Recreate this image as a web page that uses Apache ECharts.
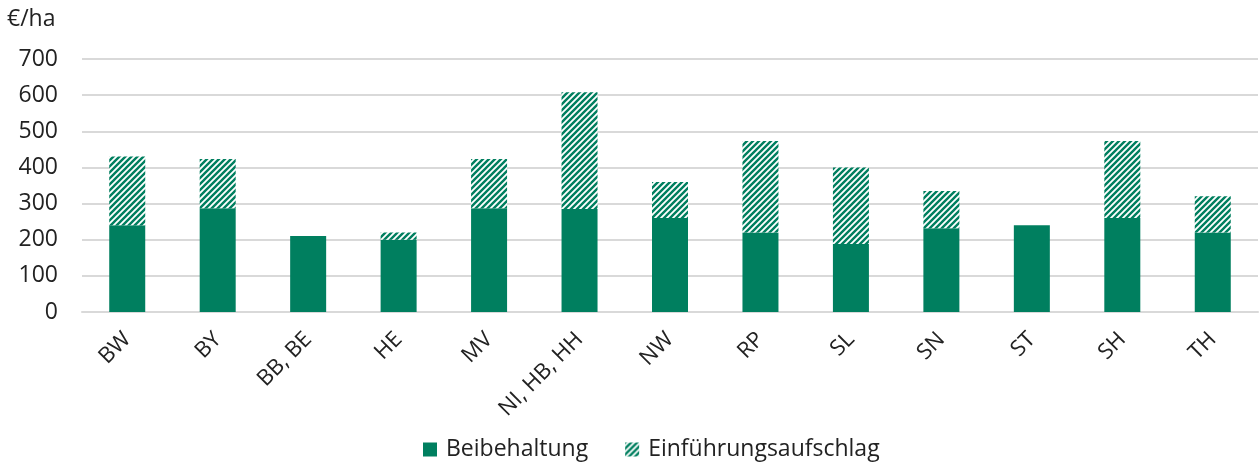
<!DOCTYPE html>
<html>
<head>
<meta charset="utf-8">
<script src="https://cdn.jsdelivr.net/npm/echarts@6/dist/echarts.min.js"></script>
<style>html,body{margin:0;padding:0;background:#fff}#c{width:1259px;height:464px}</style>
</head>
<body>
<div id="c"></div>
<script>
const categories = ['BW','BY','BB, BE','HE','MV','NI, HB, HH','NW','RP','SL','SN','ST','SH','TH'];
const beibehaltung = [240, 287, 210, 200, 287, 285, 260, 220, 188, 232, 240, 260, 220];
const einfuehrungsaufschlag = [190, 136, 0, 20, 136, 323, 100, 253, 212, 103, 0, 213, 100];
const yTicks = [0, 100, 200, 300, 400, 500, 600, 700];

const GREEN = '#007F5F';
function makePattern() {
  const s = 6;
  const cv = document.createElement('canvas');
  cv.width = s; cv.height = s;
  const ctx = cv.getContext('2d');
  ctx.fillStyle = '#ffffff';
  ctx.fillRect(0, 0, s, s);
  ctx.strokeStyle = GREEN;
  ctx.lineWidth = 2.4;
  ctx.beginPath();
  ctx.moveTo(-1, s + 1); ctx.lineTo(s + 1, -1);
  ctx.moveTo(-1, 1); ctx.lineTo(1, -1);
  ctx.moveTo(s - 1, s + 1); ctx.lineTo(s + 1, s - 1);
  ctx.stroke();
  return cv;
}
const pattern = { image: makePattern(), repeat: 'repeat' };
const FONT = '"Open Sans", Lato, sans-serif';

const chart = echarts.init(document.getElementById('c'), null, { renderer: 'canvas' });
chart.setOption({
  animation: false,
  textStyle: { fontFamily: FONT },
  graphic: [{
    type: 'text', left: 7, top: 8,
    style: { text: '€/ha', font: '23px ' + FONT, fill: '#222' }
  }],
  grid: { left: 82, right: 1, top: 59, bottom: 152, containLabel: false },
  legend: {
    top: 433, left: 418, itemGap: 37, itemWidth: 14, itemHeight: 14,
    icon: 'rect',
    textStyle: { fontSize: 23, color: '#222', fontFamily: FONT, padding: [0, 0, 0, 4] },
    data: ['Beibehaltung', 'Einführungsaufschlag']
  },
  xAxis: {
    type: 'category', data: categories,
    axisLine: { show: true, lineStyle: { color: '#d9d9d9', width: 2 } },
    axisTick: { show: false },
    axisLabel: { rotate: 45, fontSize: 22, color: '#222', margin: 24, interval: 0, fontFamily: FONT }
  },
  yAxis: {
    type: 'value', min: yTicks[0], max: yTicks[yTicks.length - 1], interval: 100,
    axisLine: { show: false }, axisTick: { show: false },
    axisLabel: { fontSize: 23, color: '#222', margin: 24, fontFamily: FONT },
    splitLine: { lineStyle: { color: '#d9d9d9', width: 2 } }
  },
  series: [
    { name: 'Beibehaltung', type: 'bar', stack: 't', barWidth: 36, data: beibehaltung,
      itemStyle: { color: GREEN } },
    { name: 'Einführungsaufschlag', type: 'bar', stack: 't', barWidth: 36, data: einfuehrungsaufschlag,
      itemStyle: { color: pattern } }
  ]
});
</script>
</body>
</html>
